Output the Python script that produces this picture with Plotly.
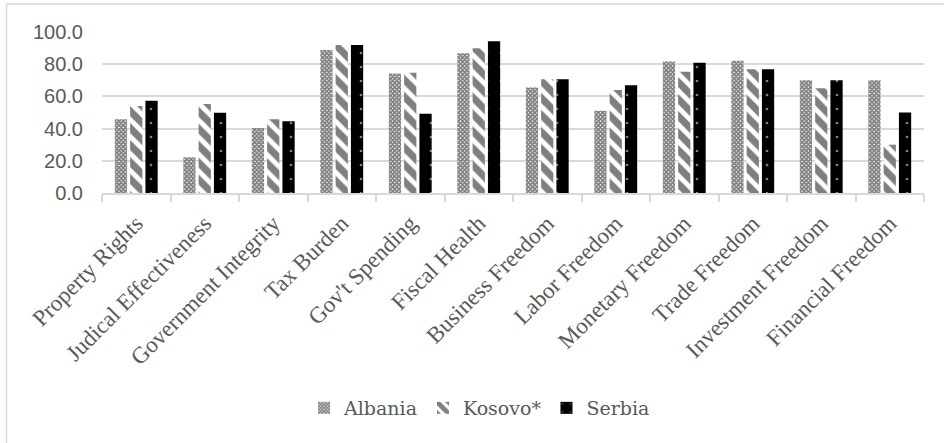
import plotly.graph_objects as go

categories = ["Property Rights", "Judical Effectiveness", "Government Integrity", "Tax Burden",
              "Gov't Spending", "Fiscal Health", "Business Freedom", "Labor Freedom",
              "Monetary Freedom", "Trade Freedom", "Investment Freedom", "Financial Freedom"]
albania = [45.8, 22.2, 40.4, 88.8, 74.3, 86.8, 65.6, 51.1, 81.6, 82.2, 70.0, 70.0]
kosovo = [54.0, 55.3, 45.8, 91.9, 74.7, 89.9, 70.6, 64.0, 75.3, 76.8, 65.0, 30.0]
serbia = [57.3, 49.9, 44.5, 91.9, 49.3, 94.2, 70.6, 66.9, 80.9, 76.8, 70.0, 50.0]

W, H = 944, 443
L, R, T, B = 102, 20, 32, 250
pw, ph = W - L - R, H - T - B

serif = "Liberation Serif"
sans = "Liberation Sans"
grey = "#595959"

fig = go.Figure()
fig.add_trace(go.Bar(name="Albania", x=categories, y=albania,
                     marker=dict(color="white", line=dict(width=0),
                                 pattern=dict(shape="x", size=3, solidity=0.8,
                                              fgcolor="black", bgcolor="white"))))
fig.add_trace(go.Bar(name="Kosovo*", x=categories, y=kosovo,
                     marker=dict(color="white", line=dict(width=0),
                                 pattern=dict(shape="\\", size=12, solidity=0.6,
                                              fgcolor="black", bgcolor="white"))))
fig.add_trace(go.Bar(name="Serbia", x=categories, y=serbia,
                     marker=dict(color="black", line=dict(width=0),
                                 pattern=dict(shape=".", size=14, solidity=0.03,
                                              fgcolor="white", bgcolor="black"))))

def px(x):
    return (x - L) / pw

def py(y):
    return (T + ph - y) / ph

shapes = [
    dict(type="line", xref="paper", yref="paper", x0=px(6.5), x1=px(960), y0=py(4), y1=py(4),
         line=dict(color="#d9d9d9", width=1.5)),
    dict(type="line", xref="paper", yref="paper", x0=px(6.5), x1=px(6.5), y0=py(4), y1=py(460),
         line=dict(color="#d9d9d9", width=1.5)),
]

fig.update_layout(
    width=W, height=H,
    margin=dict(l=L, r=R, t=T, b=B),
    paper_bgcolor="white", plot_bgcolor="white",
    font=dict(family=serif, size=22, color=grey),
    barmode="group", bargap=0.33, bargroupgap=0.2,
    showlegend=True,
    legend=dict(orientation="h", xref="container", x=0.508, xanchor="center",
                yref="container", y=(H - 408) / H, yanchor="middle",
                font=dict(family="DejaVu Serif", size=19, color=grey),
                itemwidth=30, tracegroupgap=0),
    shapes=shapes,
)
fig.update_xaxes(type="category", tickangle=-45, tickson="boundaries", ticks="outside",
                 ticklen=7, tickcolor="#d9d9d9", tickwidth=1.5, ticklabelstandoff=6,
                 showline=True, linecolor="#d9d9d9", linewidth=1.5,
                 showgrid=False, tickfont=dict(family=serif, size=23, color=grey))
fig.update_yaxes(range=[0, 100], dtick=20, tickformat=".1f", showgrid=True,
                 gridcolor="#d9d9d9", gridwidth=1.5, zeroline=False, showline=False,
                 ticks="", ticklabelstandoff=18,
                 tickfont=dict(family=sans, size=20, color=grey))

fig.write_html("out.html")
